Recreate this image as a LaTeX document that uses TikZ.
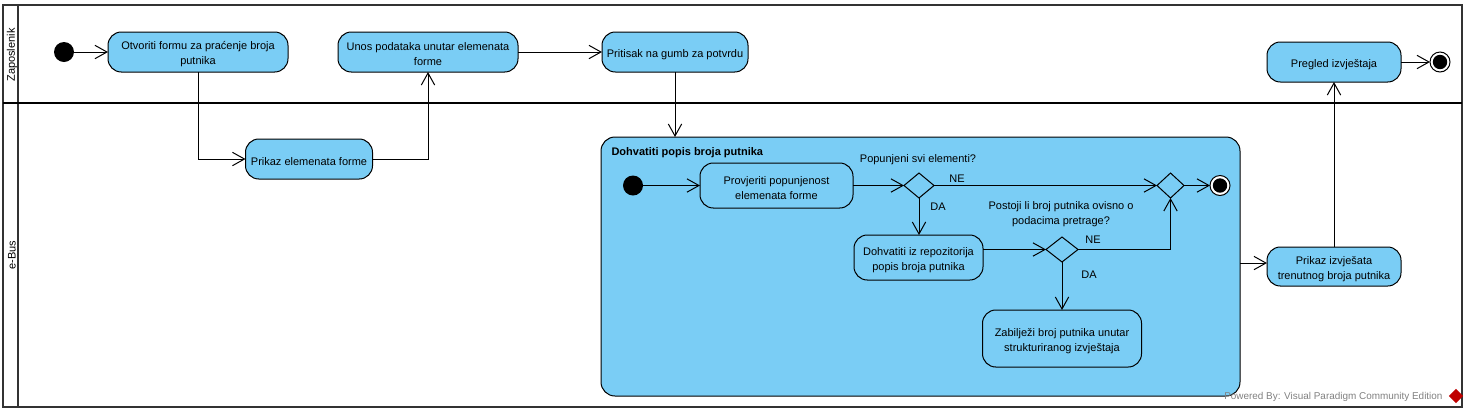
\documentclass[tikz,border=0pt]{standalone}
\usepackage{fontspec}
\setmainfont{Liberation Sans}
\usepackage{tikz}
\usetikzlibrary{arrows.meta,positioning,shapes.geometric}

\definecolor{actblue}{HTML}{7ACDF5}
\definecolor{lanegray}{HTML}{333333}
\newcommand{\toplift}{\rule{0pt}{9.5pt}}

\begin{document}
\begin{tikzpicture}[
  x=0.75pt, y=-0.75pt,
  font=\fontsize{8.25}{11.25}\selectfont,
  line width=0.75pt,
  activity/.style={draw, rounded corners=10pt, fill=actblue, align=center, inner sep=2pt, outer sep=0pt},
  startnode/.style={circle, fill=black, minimum size=15pt, inner sep=0pt, outer sep=0pt},
  endnode/.style={circle, draw, fill=white, minimum size=15pt, inner sep=0pt, outer sep=0pt,
                  path picture={\fill[black] (path picture bounding box.center) circle (5.4pt);}},
  decision/.style={diamond, draw, fill=actblue, minimum width=22.5pt, minimum height=18.75pt, inner sep=0pt, outer sep=0pt},
  lane/.style={draw=lanegray, line width=1.5pt},
  lanetitle/.style={rotate=90, inner sep=0pt},
  note/.style={inner sep=0pt, align=center},
  >={Straight Barb[length=9pt, width=10pt]}]
  % swimlanes
  \draw[lane] (3,5) rectangle (1462,407);
  \draw[lane] (18,5) -- (18,407);
  \draw[lane, black, line width=2.2pt] (3,103) -- (1462,103);
  \node[lanetitle] (zaposlenik) at (12,55) {Zaposlenik};
  \node[lanetitle] (ebus) at (12,255) {e-Bus};

  % Zaposlenik
  \node[startnode] (start) at (64,52) {};
  \node[activity, minimum width=135pt, minimum height=30pt, right=25.5pt of start] (otvoriti) {\toplift Otvoriti formu za praćenje broja\\ putnika};
  \node[activity, minimum width=135pt, minimum height=30pt, right=37.5pt of otvoriti] (unos) {\toplift Unos podataka unutar elemenata\\ forme};
  \node[activity, minimum width=109.5pt, minimum height=30pt, right=63pt of unos] (pritisak) {\toplift Pritisak na gumb za potvrdu};
  \node[activity, minimum width=100.5pt, minimum height=30pt] (pregled) at (1334,62) {\toplift Pregled izvještaja};
  \node[endnode, right=21.75pt of pregled] (kraj) {};

  % e-Bus
  \node[activity, minimum width=95.25pt, minimum height=30pt] (prikaz) at (309,159) {\toplift Prikaz elemenata forme};
  \node[activity, rounded corners=10.5pt, minimum width=479.25pt, minimum height=194.25pt] (dohvat) at (920.5,266.5) {};
  \node[note, font=\fontsize{8.25}{11.25}\selectfont\bfseries, anchor=west] (dohvatnaslov) at (611,152.5) {Dohvatiti popis broja putnika};
  \node[activity, minimum width=100.5pt, minimum height=29.25pt] (izvjestaj) at (1334,266.5) {\toplift Prikaz izvješata\\ trenutnog broja putnika};

  % inside the container
  \node[startnode] (unutarstart) at (633,185.5) {};
  \node[activity, minimum width=114.75pt, minimum height=33.75pt, right=42.75pt of unutarstart] (provjeriti) {\toplift Provjeriti popunjenost\\ elemenata forme};
  \node[decision, right=38.25pt of provjeriti] (prva) {};
  \node[decision, minimum width=20.25pt, right=167.25pt of prva] (spoj) {};
  \node[endnode, right=19.5pt of spoj] (unutarkraj) {};
  \node[activity, minimum width=96.75pt, minimum height=33.75pt] (repozitorij) at (918.5,257.5) {\toplift Dohvatiti iz repozitorija\\ popis broja putnika};
  \node[decision, minimum width=24pt] (druga) at (1062,249.5) {};
  \node[activity, minimum width=119.25pt, minimum height=42.75pt] (zabiljezi) at (1062,338.5) {\toplift Zabilježi broj putnika unutar\\ strukturiranog izvještaja};

  % labels
  \node[note] (pitanje1) at (918,160) {Popunjeni svi elementi?};
  \node[note] (ne1) at (957,178.5) {NE};
  \node[note] (da1) at (938,206.5) {DA};
  \node[note] (pitanje2) at (1061,214.5) {Postoji li broj putnika ovisno o\\ podacima pretrage?};
  \node[note] (ne2) at (1093,239.5) {NE};
  \node[note] (da2) at (1089,274.5) {DA};

  % connectors
  \draw[->] (start) -- (otvoriti);
  \draw[->] (otvoriti.south) |- (prikaz.west);
  \draw[->] (prikaz.east) -| (unos.south);
  \draw[->] (unos) -- (pritisak);
  \draw[->] (pritisak.south) -- (dohvat.north -| pritisak.south);
  \draw[->] ([yshift=2.6pt]izvjestaj.west -| dohvat.east) -- ([yshift=2.6pt]izvjestaj.west);
  \draw[->] (izvjestaj) -- (pregled);
  \draw[->] (pregled) -- (kraj);
  \draw[->] (unutarstart) -- (provjeriti);
  \draw[->] (provjeriti) -- (prva);
  \draw[->] (prva) -- (spoj);
  \draw[->] (spoj) -- (unutarkraj);
  \draw[->] (prva.south) -- (prva.south |- repozitorij.north);
  \draw[->] (druga.west -| repozitorij.east) -- (druga.west);
  \draw[->] (druga.east) -| (spoj.south);
  \draw[->] (druga.south) -- (druga.south |- zabiljezi.north);

  % watermark
  \node[note, font=\fontsize{7.45}{9}\selectfont, text=black!50, anchor=east] (oznaka) at (1443,397) {Powered By: Visual Paradigm Community Edition};
  \node[diamond, fill=red!75!black, minimum width=11pt, minimum height=11pt, inner sep=0pt] (logo) at (1456,396) {};
  \useasboundingbox (0,0) rectangle (1466,412);
\end{tikzpicture}
\end{document}
